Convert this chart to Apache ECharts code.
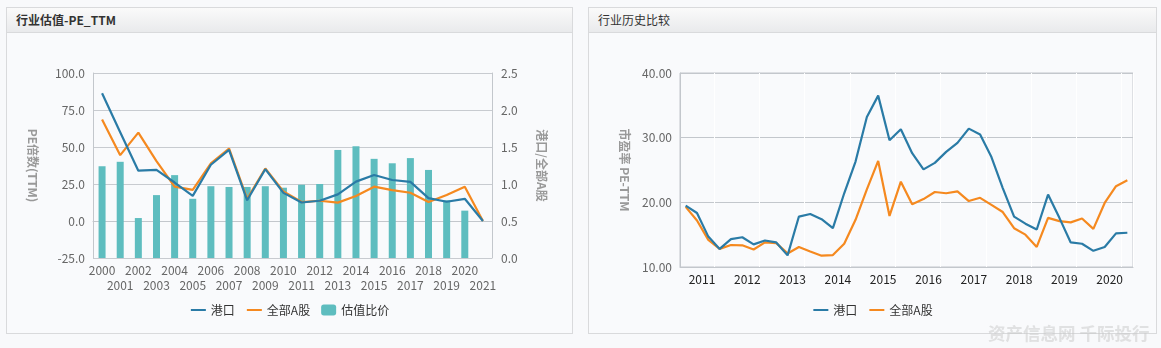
<!DOCTYPE html>
<html>
<head>
<meta charset="utf-8">
<script src="https://cdn.jsdelivr.net/npm/echarts@6/dist/echarts.min.js"></script>
<style>
  html, body { margin: 0; padding: 0; background: #f8f9fb; width: 1161px; height: 348px; overflow: hidden;
    font-family: "Noto Sans CJK SC", "Noto Sans", sans-serif; }
  .panel { position: absolute; top: 7px; height: 325px; border: 1px solid #d9dadc; background: #f9fafc; box-sizing: content-box; }
  .hdr { height: 24px; border-bottom: 1px solid #d9dadc; background: linear-gradient(#fafafa, #e9eaec);
    font-size: 12px; color: #333; line-height: 24px; padding-left: 9px; }
  .chart { position: absolute; left: 0; top: 25px; }
  #wm { position: absolute; left: 988px; top: 320px; font-size: 17.5px; font-weight: bold; color: rgba(200,200,200,0.5); white-space: nowrap; }
</style>
</head>
<body>
<div class="panel" style="left:6px;width:565px;">
  <div class="hdr" style="font-weight:bold;">行业估值-PE_TTM</div>
  <div id="c1" class="chart" style="width:565px;height:300px;"></div>
</div>
<div class="panel" style="left:588px;width:567px;">
  <div class="hdr">行业历史比较</div>
  <div id="c2" class="chart" style="width:567px;height:300px;"></div>
</div>
<div id="wm">资产信息网 千际投行</div>
<script>
// ---- Chart 1 data ----
const years = ['2000','2001','2002','2003','2004','2005','2006','2007','2008','2009','2010',
  '2011','2012','2013','2014','2015','2016','2017','2018','2019','2020','2021'];
const portPE = [86.3, 60, 34, 34.5, 26, 17, 38, 48, 14, 35, 19, 12.5, 13.7, 18, 26.6, 31.1, 27.7, 26.4, 15.5, 13, 15, 0];
const allAPE = [68.5, 44.5, 59.7, 40.5, 23.2, 21, 39, 49, 15, 35.5, 20, 12.8, 13.7, 12.4, 16.9, 23.2, 20.9, 19.1, 12.8, 17.6, 23.2, 0];
const ratio = [1.24, 1.30, 0.54, 0.85, 1.12, 0.80, 0.97, 0.96, 0.96, 0.97, 0.95, 0.99, 1.00, 1.46, 1.51, 1.34, 1.28, 1.35, 1.19, 0.78, 0.64, null];
const leftTicks = { min: -25, max: 100, interval: 25 };
const rightTicks = { min: 0, max: 2.5, interval: 0.5 };

// ---- Chart 2 data (quarterly 2011Q1..2020Q4) ----
const quarters = [];
for (let y = 2011; y <= 2020; y++) for (let q = 1; q <= 4; q++) quarters.push(y + 'Q' + q);
const portHist = [19.5, 18.35, 14.7, 12.8, 14.3, 14.6, 13.5, 14.1, 13.8, 11.8,
  17.8, 18.2, 17.4, 16.0, 21.4, 26.3, 33.2, 36.5, 29.6, 31.3,
  27.6, 25.1, 26.1, 27.8, 29.2, 31.4, 30.5, 27.0, 22.2, 17.8,
  16.7, 15.8, 21.2, 17.6, 13.8, 13.6, 12.5, 13.1, 15.2, 15.3];
const allAHist = [19.3, 17.2, 14.2, 12.8, 13.4, 13.35, 12.7, 13.8, 13.7, 12.1,
  13.1, 12.4, 11.75, 11.85, 13.6, 17.3, 22.0, 26.4, 17.9, 23.2,
  19.7, 20.5, 21.6, 21.4, 21.7, 20.2, 20.7, 19.6, 18.5, 16.0,
  15.0, 13.1, 17.6, 17.1, 16.9, 17.5, 15.9, 19.9, 22.5, 23.4];
const histTicks = { min: 10, max: 40, interval: 10 };

const BLUE = '#2a7ba6', ORANGE = '#f5891f', TEAL = '#5ebdbf';
const FONT = '"Noto Sans CJK SC", "Noto Sans", sans-serif';
const lineLegend = (name) => ({ name: name, itemStyle: { opacity: 0 } });

const c1 = echarts.init(document.getElementById('c1'));
c1.setOption({
  animation: false,
  textStyle: { fontFamily: FONT },
  grid: { left: 86, top: 40, width: 399, height: 185 },
  legend: {
    bottom: 12, left: 'center', itemWidth: 15, itemHeight: 11, itemGap: 11,
    textStyle: { fontSize: 12, color: '#333', fontFamily: FONT },
    data: [lineLegend('港口'), lineLegend('全部A股'), { name: '估值比价', icon: 'roundRect' }]
  },
  xAxis: {
    type: 'category', data: years, boundaryGap: true,
    axisLine: { lineStyle: { color: '#c3c7cc' } },
    axisTick: { alignWithLabel: true, length: 4, lineStyle: { color: '#c3c7cc' },
      interval: (i) => i % 2 === 1 },
    axisLabel: { interval: 0, color: '#666', fontSize: 12, margin: 5, lineHeight: 15,
      formatter: (v, i) => (i % 2 === 1 ? '\n' + v : v) }
  },
  yAxis: [{
    type: 'value', min: leftTicks.min, max: leftTicks.max, interval: leftTicks.interval,
    name: 'PE倍数(TTM)', nameLocation: 'middle', nameRotate: -90, nameGap: 54,
    nameTextStyle: { color: '#999', fontSize: 12, fontWeight: 'bold' },
    axisLine: { show: true, lineStyle: { color: '#c3c7cc' } },
    axisLabel: { color: '#666', fontSize: 12, margin: 8, formatter: (v) => v.toFixed(1) },
    splitLine: { lineStyle: { color: '#c8cbd0' } }
  }, {
    type: 'value', min: rightTicks.min, max: rightTicks.max, interval: rightTicks.interval,
    name: '港口/全部A股', nameLocation: 'middle', nameRotate: -90, nameGap: 44,
    nameTextStyle: { color: '#999', fontSize: 12, fontWeight: 'bold' },
    axisLine: { show: true, lineStyle: { color: '#c3c7cc' } },
    axisLabel: { color: '#666', fontSize: 12, margin: 9, formatter: (v) => v.toFixed(1) },
    splitLine: { show: false }
  }],
  series: [
    { name: '估值比价', type: 'bar', yAxisIndex: 1, data: ratio, barWidth: 7, itemStyle: { color: TEAL } },
    { name: '港口', type: 'line', yAxisIndex: 0, data: portPE, symbol: 'none', lineStyle: { color: BLUE, width: 2.2 }, itemStyle: { color: BLUE }, z: 4 },
    { name: '全部A股', type: 'line', yAxisIndex: 0, data: allAPE, symbol: 'none', lineStyle: { color: ORANGE, width: 2.2 }, itemStyle: { color: ORANGE }, z: 3 }
  ]
});

const c2 = echarts.init(document.getElementById('c2'));
c2.setOption({
  animation: false,
  textStyle: { fontFamily: FONT },
  grid: { left: 91, top: 40, width: 453, height: 194, show: true, borderColor: '#c3c7cc', borderWidth: 1, backgroundColor: 'transparent' },
  legend: {
    bottom: 12, left: 'center', itemWidth: 15, itemHeight: 11, itemGap: 11,
    textStyle: { fontSize: 12, color: '#333', fontFamily: FONT },
    data: [lineLegend('港口'), lineLegend('全部A股')]
  },
  xAxis: {
    type: 'category', data: quarters, boundaryGap: true,
    axisLine: { lineStyle: { color: '#c3c7cc' } },
    axisTick: { alignWithLabel: true, length: 5, lineStyle: { color: '#c3c7cc' }, interval: (i) => i % 4 === 3 },
    axisLabel: { color: '#222', fontSize: 12, margin: 6, padding: [0, 0, 0, 10],
      interval: (i) => i % 4 === 1, formatter: (v) => v.slice(0, 4) },
    splitLine: { show: true, interval: (i) => i % 4 === 3, lineStyle: { color: '#ffffff', width: 1 } }
  },
  yAxis: {
    type: 'value', min: histTicks.min, max: histTicks.max, interval: histTicks.interval,
    name: '市盈率 PE-TTM', nameLocation: 'middle', nameRotate: -90, nameGap: 49,
    nameTextStyle: { color: '#999', fontSize: 12, fontWeight: 'bold' },
    axisLine: { show: true, lineStyle: { color: '#c3c7cc' } },
    axisLabel: { color: '#666', fontSize: 12, margin: 8, formatter: (v) => v.toFixed(2) },
    splitLine: { lineStyle: { color: '#c3c7cc' } }
  },
  series: [
    { name: '港口', type: 'line', data: portHist, symbol: 'none', lineStyle: { color: BLUE, width: 2.2 }, itemStyle: { color: BLUE }, z: 4 },
    { name: '全部A股', type: 'line', data: allAHist, symbol: 'none', lineStyle: { color: ORANGE, width: 2.2 }, itemStyle: { color: ORANGE }, z: 3 }
  ]
});
</script>
</body>
</html>
